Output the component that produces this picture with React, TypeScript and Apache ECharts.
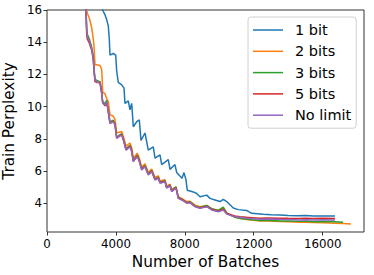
import React, { useEffect, useRef } from "react";
import * as echarts from "echarts";

const seriesNames = ["1 bit", "2 bits", "3 bits", "5 bits", "No limit"];
const colors = ["#1f77b4", "#ff7f0e", "#2ca02c", "#d62728", "#9467bd"];
const xTicks = [0, 4000, 8000, 12000, 16000];
const yTicks = [4, 6, 8, 10, 12, 14, 16];

const blueBatches = [3100, 3230, 3366, 3465, 3558, 3616, 3656, 3848, 3987, 4045, 4138, 4335, 4469, 4527, 4718, 4817, 4916, 5009, 5206, 5357, 5456, 5688, 5879, 6169, 6268, 6558, 6657, 7040, 7139, 7429, 7527, 7836, 7951, 8067, 8143, 8491, 8688, 8880, 9269, 9460, 9750, 10041, 10232, 10430, 10813, 11103, 11590, 11880, 12554, 13000, 13523, 14000, 14492, 15000, 15456, 16000, 16715];
const bit1 = [16.6, 16.0, 15.7, 15.4, 15.0, 14.2, 13.2, 13.3, 13.2, 12.2, 11.5, 11.35, 11.15, 10.2, 10.35, 9.8, 10.2, 8.75, 9.06, 9.17, 7.9, 8.36, 7.3, 7.5, 6.8, 7.0, 6.4, 6.7, 6.1, 6.4, 5.9, 5.55, 5.9, 5.45, 4.8, 4.7, 4.6, 4.4, 4.5, 4.3, 4.2, 4.1, 4.24, 4.1, 3.7, 3.6, 3.55, 3.37, 3.31, 3.28, 3.27, 3.24, 3.22, 3.23, 3.2, 3.21, 3.2];

const clusterBatches = [2200, 2263, 2304, 2339, 2455, 2594, 2687, 2728, 2786, 2885, 3076, 3175, 3233, 3366, 3465, 3558, 3656, 3848, 3947, 4045, 4335, 4428, 4585, 4817, 4916, 5009, 5241, 5357, 5496, 5688, 5879, 6077, 6268, 6460, 6558, 6848, 6947, 7139, 7237, 7487, 7620, 7818, 8108, 8300, 8590, 8880, 9269, 9559, 9942, 10232, 10430, 10911, 11200, 11590, 11900, 12362, 12800, 13523, 14000, 14684, 15000, 15456, 16000, 16715];
const greenExtra = [17180];
const orangeExtra = [17180, 17640];

const bits2 = [16.6, 16.3, 16.0, 15.8, 15.5, 14.9, 14.2, 13.8, 12.6, 12.6, 12.55, 12.3, 10.9, 10.8, 10.5, 10.3, 9.5, 9.4, 9.2, 8.36, 8.45, 8.15, 7.55, 7.74, 7.45, 6.8, 7.1, 6.8, 6.25, 6.45, 5.92, 6.12, 5.6, 5.7, 5.38, 5.45, 5.05, 5.18, 4.85, 5.0, 4.4, 4.3, 4.1, 4.12, 3.88, 3.78, 3.86, 3.66, 3.55, 3.7, 3.4, 3.12, 3.05, 2.98, 2.95, 2.9, 2.9, 2.86, 2.85, 2.82, 2.82, 2.8, 2.79, 2.76, 2.74, 2.7];
const bits3 = [16.5, 16.1, 14.9, 14.5, 14.2, 13.7, 13.1, 12.4, 11.72, 11.62, 11.55, 10.9, 10.3, 10.18, 10.38, 9.78, 9.05, 9.15, 8.93, 8.1, 8.32, 8.0, 7.38, 7.6, 7.28, 6.66, 6.98, 6.68, 6.13, 6.34, 5.82, 6.03, 5.5, 5.62, 5.3, 5.4, 4.99, 5.13, 4.78, 5.02, 4.36, 4.25, 4.05, 4.08, 3.83, 3.73, 3.86, 3.65, 3.55, 3.75, 3.38, 3.12, 3.06, 3.0, 2.97, 2.93, 2.94, 2.9, 2.9, 2.87, 2.88, 2.85, 2.86, 2.84, 2.82];
const bits5 = [16.4, 15.9, 14.5, 14.2, 13.95, 13.5, 12.9, 12.2, 11.55, 11.5, 11.5, 10.85, 10.25, 10.05, 10.25, 9.65, 8.95, 9.1, 8.9, 8.05, 8.28, 7.98, 7.32, 7.55, 7.25, 6.6, 6.95, 6.62, 6.1, 6.3, 5.78, 6.0, 5.47, 5.58, 5.27, 5.36, 4.96, 5.1, 4.75, 4.97, 4.33, 4.23, 4.03, 4.06, 3.8, 3.71, 3.8, 3.61, 3.5, 3.62, 3.36, 3.2, 3.16, 3.12, 3.1, 3.07, 3.08, 3.07, 3.06, 3.05, 3.06, 3.05, 3.06, 3.05];
const noLimit = [16.5, 16.0, 14.76, 14.35, 14.1, 13.6, 13.0, 12.3, 11.65, 11.55, 11.45, 10.8, 10.2, 10.1, 10.3, 9.7, 8.96, 9.06, 8.85, 8.03, 8.24, 7.93, 7.3, 7.5, 7.2, 6.58, 6.9, 6.6, 6.06, 6.27, 5.75, 5.96, 5.44, 5.55, 5.24, 5.33, 4.93, 5.07, 4.72, 4.93, 4.3, 4.2, 4.0, 4.03, 3.78, 3.68, 3.78, 3.58, 3.47, 3.58, 3.33, 3.16, 3.12, 3.06, 3.05, 3.0, 3.02, 3.0, 2.99, 2.96, 2.97, 2.96, 2.97, 2.96];

const pair = (xs: number[], ys: number[]) => ys.map((y, i) => [xs[i], y]);

const FONT = "DejaVu Sans";

export default function App() {
  const ref = useRef<HTMLDivElement>(null);
  useEffect(() => {
    if (!ref.current) return;
    const chart = echarts.init(ref.current, undefined, { renderer: "svg" });
    const seriesData = [
      pair(blueBatches, bit1),
      pair(clusterBatches.concat(orangeExtra), bits2),
      pair(clusterBatches.concat(greenExtra), bits3),
      pair(clusterBatches, bits5),
      pair(clusterBatches, noLimit),
    ];
    chart.setOption({
      animation: false,
      color: colors,
      grid: {
        left: 47,
        right: 10,
        top: 10,
        bottom: 43,
        show: true,
        borderColor: "#333",
        borderWidth: 1,
        backgroundColor: "transparent",
        containLabel: false,
        outerBoundsMode: "none",
      },
      legend: {
        orient: "vertical",
        left: 248,
        top: 17,
        padding: [5, 5, 5, 5],
        itemGap: 5.3,
        itemWidth: 30,
        itemHeight: 1.5,
        icon: "rect",
        borderColor: "#d0d0d0",
        borderWidth: 1,
        borderRadius: 3,
        backgroundColor: "rgba(255,255,255,0.8)",
        textStyle: {
          fontFamily: FONT,
          fontSize: 14.5,
          color: "#000",
          lineHeight: 16,
          padding: [0, 0, 0, 7],
        },
        data: seriesNames,
      },
      xAxis: {
        type: "value",
        min: 0,
        max: 18400,
        name: "Number of Batches",
        nameLocation: "middle",
        nameGap: 18,
        nameTextStyle: { fontFamily: FONT, fontSize: 15.3, color: "#000", verticalAlign: "top" },
        axisLine: { show: false },
        splitLine: { show: false },
        axisTick: {
          show: true,
          length: 3.5,
          lineStyle: { color: "#333" },
          customValues: xTicks,
        },
        axisLabel: {
          fontFamily: FONT,
          fontSize: 11.8,
          color: "#000",
          margin: 6,
          customValues: xTicks,
          formatter: (v: number) => String(v),
        },
      },
      yAxis: {
        type: "value",
        min: 2.21,
        max: 16,
        name: "Train Perplexity",
        nameLocation: "middle",
        nameGap: 25,
        nameTextStyle: { fontFamily: FONT, fontSize: 15.3, color: "#000" },
        axisLine: { show: false },
        splitLine: { show: false },
        axisTick: {
          show: true,
          length: 3.5,
          lineStyle: { color: "#333" },
          customValues: yTicks,
        },
        axisLabel: {
          fontFamily: FONT,
          fontSize: 11.8,
          color: "#000",
          margin: 5,
          customValues: yTicks,
          formatter: (v: number) => String(v),
        },
      },
      series: seriesNames.map((name, i) => ({
        name,
        type: "line",
        data: seriesData[i],
        symbol: "none",
        clip: true,
        lineStyle: { width: 1.5, color: colors[i] },
        itemStyle: { color: colors[i] },
      })),
    });
    return () => chart.dispose();
  }, []);
  return <div ref={ref} style={{ width: 374, height: 275, position: "absolute", left: 0, top: 0 }} />;
}
